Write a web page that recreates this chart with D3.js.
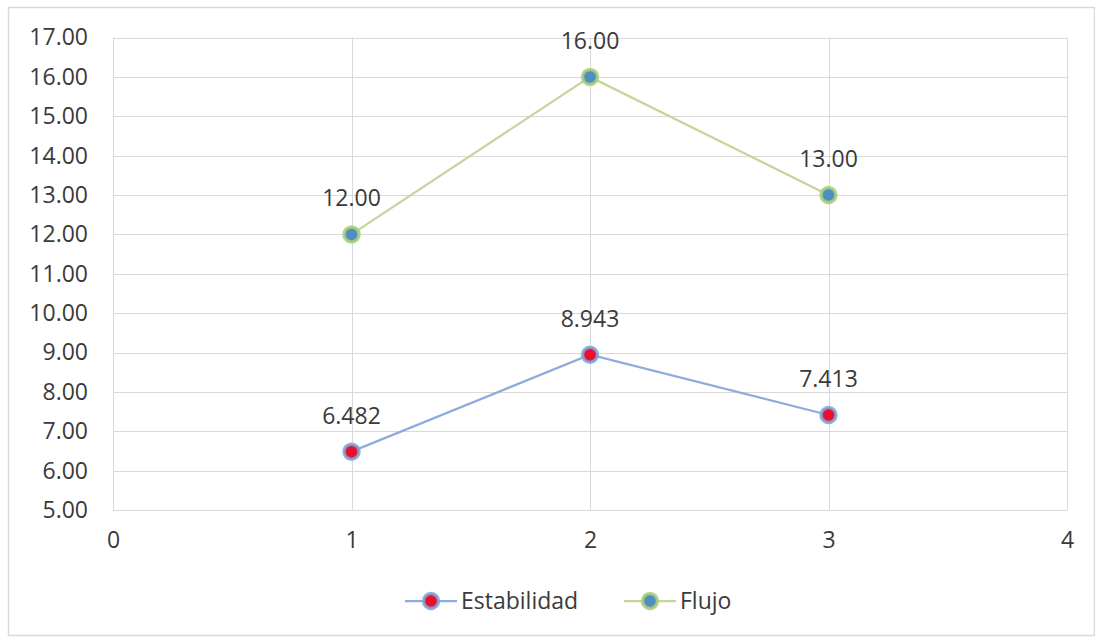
<!DOCTYPE html>
<html><head><meta charset="utf-8">
<script src="https://cdn.jsdelivr.net/npm/d3@7"></script>
<style>body{margin:0;background:#fff}svg{display:block}text{font-family:"Open Sans","Liberation Sans",sans-serif;fill:#3a3a3a}</style>
</head><body>
<script>
const xValues = [1, 2, 3];
const estabilidad = [6.482, 8.943, 7.413];
const flujo = [12.00, 16.00, 13.00];
const estabilidadLabels = ["6.482", "8.943", "7.413"];
const flujoLabels = ["12.00", "16.00", "13.00"];
const yTicks = [5,6,7,8,9,10,11,12,13,14,15,16,17];
const xTicks = [0,1,2,3,4];

const W = 1095, H = 637;
const FS = "23px";
const svg = d3.select("body").append("svg").attr("width", W).attr("height", H);
svg.append("rect").attr("x", 8.5).attr("y", 7.5).attr("width", 1086).attr("height", 628)
  .attr("fill", "#fff").attr("stroke", "#d9d9d9").attr("stroke-width", 1.5);

const x = d3.scaleLinear().domain([0, 4]).range([113, 1067]);
const y = d3.scaleLinear().domain([5, 17]).range([510, 37.5]);

const g = svg.append("g");
g.selectAll(".hg").data(yTicks).join("line")
  .attr("x1", x(0)).attr("x2", x(4)).attr("y1", d => Math.round(y(d)) + 0.5).attr("y2", d => Math.round(y(d)) + 0.5)
  .attr("stroke", "#d9d9d9").attr("stroke-width", 1);
g.selectAll(".vg").data(xTicks).join("line")
  .attr("y1", y(17)).attr("y2", y(5)).attr("x1", d => Math.round(x(d)) + 0.5).attr("x2", d => Math.round(x(d)) + 0.5)
  .attr("stroke", "#d9d9d9").attr("stroke-width", 1);

const yAxis = d3.axisLeft(y).tickValues(yTicks).tickFormat(d3.format(".2f")).tickSize(0).tickPadding(25);
const ya = svg.append("g").attr("transform", `translate(${x(0)},0)`).call(yAxis);
ya.select(".domain").remove();
ya.selectAll("text").style("font-size", FS).attr("fill", "#3a3a3a").style("font-family", "'Open Sans','Liberation Sans',sans-serif");

const xAxis = d3.axisBottom(x).tickValues(xTicks).tickFormat(d3.format("d")).tickSize(0).tickPadding(22);
const xa = svg.append("g").attr("transform", `translate(0,${y(5)})`).call(xAxis);
xa.select(".domain").remove();
xa.selectAll("text").style("font-size", FS).attr("fill", "#3a3a3a").style("font-family", "'Open Sans','Liberation Sans',sans-serif");

const series = [
  {name: "Estabilidad", values: estabilidad, labels: estabilidadLabels, line: "#8faadc", ring: "#7ea6d8", fill: "#e8102e"},
  {name: "Flujo", values: flujo, labels: flujoLabels, line: "#c3d69b", ring: "#a9cf7a", fill: "#4f8fc0"}
];

const lineGen = d3.line().x((d, i) => x(xValues[i])).y(d => y(d));
series.forEach(s => {
  svg.append("path").datum(s.values).attr("d", lineGen).attr("fill", "none")
    .attr("stroke", s.line).attr("stroke-width", 2.25);
  svg.selectAll(null).data(s.values).join("circle")
    .attr("cx", (d, i) => x(xValues[i])).attr("cy", d => y(d)).attr("r", 7.5)
    .attr("fill", s.fill).attr("stroke", s.ring).attr("stroke-width", 3.5).attr("stroke-opacity", 0.85);
  svg.selectAll(null).data(s.values).join("text")
    .attr("x", (d, i) => x(xValues[i])).attr("y", d => y(d) - 28)
    .attr("text-anchor", "middle").style("font-size", FS).text((d, i) => s.labels[i]);
});

const legend = [
  {s: series[0], x0: 405, tx: 461},
  {s: series[1], x0: 624, tx: 680}
];
legend.forEach(l => {
  const ly = 601;
  svg.append("line").attr("x1", l.x0).attr("x2", l.x0 + 52).attr("y1", ly).attr("y2", ly)
    .attr("stroke", l.s.line).attr("stroke-width", 2.25);
  svg.append("circle").attr("cx", l.x0 + 26).attr("cy", ly).attr("r", 7.5)
    .attr("fill", l.s.fill).attr("stroke", l.s.ring).attr("stroke-width", 3.5).attr("stroke-opacity", 0.85);
  svg.append("text").attr("x", l.tx).attr("y", ly + 8).style("font-size", FS).text(l.s.name);
});
</script>
</body></html>
